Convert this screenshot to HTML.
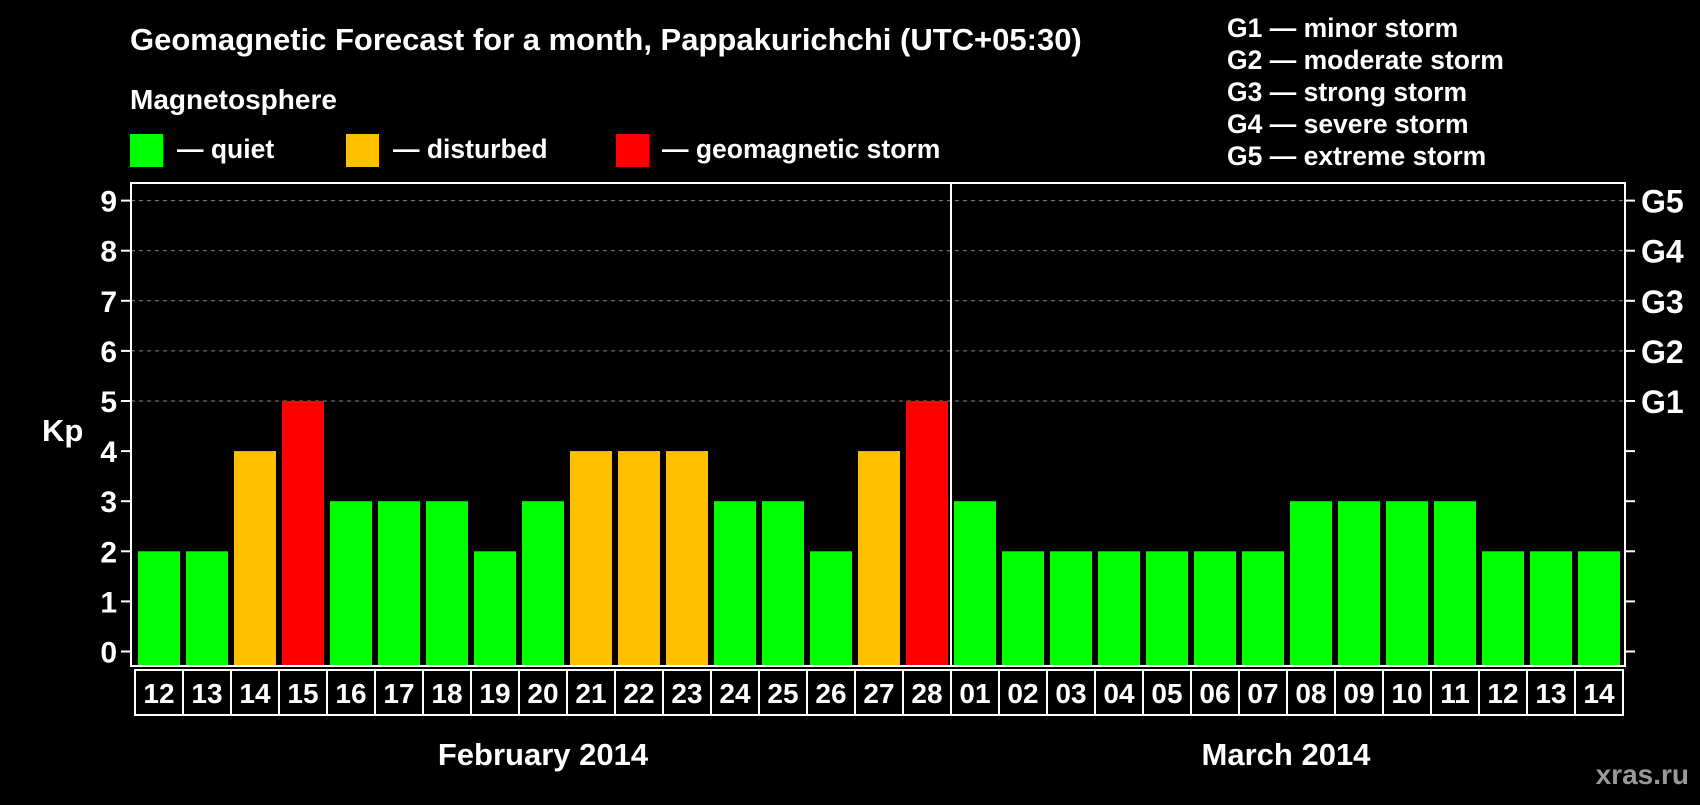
<!DOCTYPE html>
<html><head><meta charset="utf-8"><style>
body{margin:0;background:#000;width:1700px;height:800px;overflow:hidden;font-family:"Liberation Sans",sans-serif;}
svg text{font-family:"Liberation Sans",sans-serif;font-weight:bold;fill:#fff;}
</style></head><body>
<svg id="c" width="1700" height="800" xmlns="http://www.w3.org/2000/svg">
<text x="130" y="50" font-size="31">Geomagnetic Forecast for a month, Pappakurichchi (UTC+05:30)</text>
<text x="130" y="109" font-size="28">Magnetosphere</text>
<rect x="130" y="134" width="33" height="33" fill="#00ff00"/>
<text x="177" y="158" font-size="26.5">— quiet</text>
<rect x="346" y="134" width="33" height="33" fill="#ffc000"/>
<text x="393" y="158" font-size="26.5">— disturbed</text>
<rect x="616" y="134" width="33" height="33" fill="#ff0000"/>
<text x="662" y="158" font-size="26.5">— geomagnetic storm</text>
<g font-size="26.5">
<text x="1227" y="37">G1 — minor storm</text>
<text x="1227" y="69">G2 — moderate storm</text>
<text x="1227" y="101">G3 — strong storm</text>
<text x="1227" y="133">G4 — severe storm</text>
<text x="1227" y="165">G5 — extreme storm</text>
</g>
<text x="42" y="441" font-size="31">Kp</text>
<g id="plot"></g>
<text x="543" y="765" font-size="31" text-anchor="middle">February 2014</text>
<text x="1286" y="765" font-size="31" text-anchor="middle">March 2014</text>
<text x="1689" y="784" font-size="28" text-anchor="end" style="fill:#999">xras.ru</text>
</svg>
<script>
const days=["12","13","14","15","16","17","18","19","20","21","22","23","24","25","26","27","28","01","02","03","04","05","06","07","08","09","10","11","12","13","14"];
const kp=[2,2,4,5,3,3,3,2,3,4,4,4,3,3,2,4,5,3,2,2,2,2,2,2,3,3,3,3,2,2,2];
const yTicks=[0,1,2,3,4,5,6,7,8,9];
const gLabels={5:"G1",6:"G2",7:"G3",8:"G4",9:"G5"};
const NS="http://www.w3.org/2000/svg";
const g=document.getElementById('plot');
const L=131,R=1625,T=183,B=666;
const y=v=>651.5-v*50.1;
const x=i=>138+i*48;
function mk(t,a){const e=document.createElementNS(NS,t);for(const k in a)e.setAttribute(k,a[k]);g.appendChild(e);return e;}
yTicks.forEach(v=>{
 if(v>=5){const l=mk('line',{x1:L,x2:R,y1:y(v),y2:y(v),stroke:'#888','stroke-width':1,'stroke-dasharray':'4,4'});
 
 }
 mk('line',{x1:L-10,x2:L,y1:y(v),y2:y(v),stroke:'#fff','stroke-width':2});
 mk('line',{x1:R,x2:R+10,y1:y(v),y2:y(v),stroke:'#fff','stroke-width':2});
 const t=mk('text',{x:117,y:y(v)+11,'font-size':30,'text-anchor':'end'});t.textContent=v;
 
 
 if(gLabels[v]){const r=mk('text',{x:1641,y:y(v)+12,'font-size':32});r.textContent=gLabels[v];
 
 }
});
kp.forEach((v,i)=>{
 const c=v>=5?'#ff0000':v>=4?'#ffc000':'#00ff00';
 const b=mk('rect',{x:x(i),y:y(v),width:42,height:B-1-y(v),fill:c});
 
 
 const bx=mk('rect',{x:135+i*48,y:670,width:48,height:45,fill:'none',stroke:'#fff','stroke-width':2});
 
 
 const t=mk('text',{x:159+i*48,y:703,'font-size':28,'text-anchor':'middle'});t.textContent=days[i];
 
 
});
const f=mk('rect',{x:L,y:T,width:R-L,height:B-T,fill:'none',stroke:'#fff','stroke-width':2});


const d=mk('line',{x1:951,x2:951,y1:T,y2:B,stroke:'#fff','stroke-width':2});


</script>
</body></html>
